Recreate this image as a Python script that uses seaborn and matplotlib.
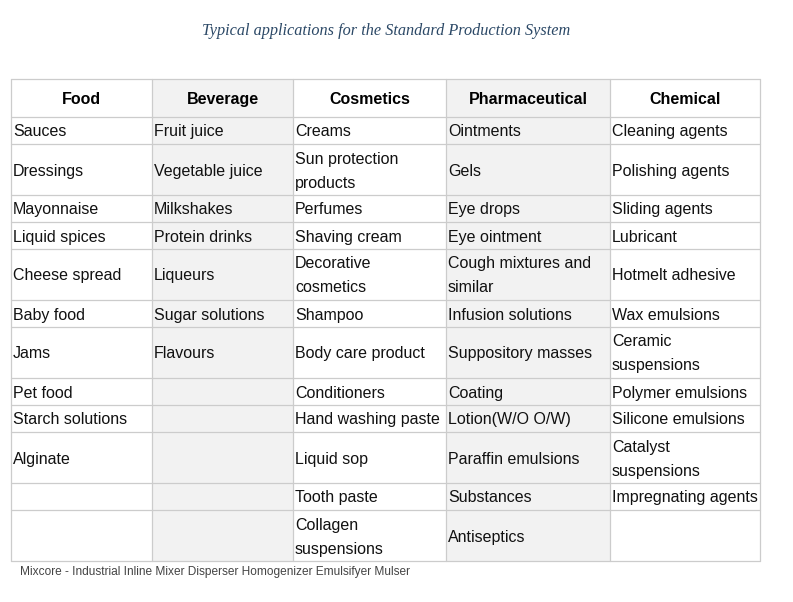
import matplotlib
matplotlib.use('Agg')
import matplotlib.pyplot as plt
from matplotlib.patches import Rectangle
import seaborn as sns

# Dados da tabela
titulo = 'Typical applications for the Standard Production System'
rodape = 'Mixcore - Industrial Inline Mixer Disperser Homogenizer Emulsifyer Mulser'

cabecalho = ['Food', 'Beverage', 'Cosmetics', 'Pharmaceutical', 'Chemical']

food = ['Sauces', 'Dressings', 'Mayonnaise', 'Liquid spices', 'Cheese spread',
        'Baby food', 'Jams', 'Pet food', 'Starch solutions', 'Alginate', '', '']
beverage = ['Fruit juice', 'Vegetable juice', 'Milkshakes', 'Protein drinks', 'Liqueurs',
            'Sugar solutions', 'Flavours', '', '', '', '', '']
cosmetics = ['Creams', 'Sun protection\nproducts', 'Perfumes', 'Shaving cream',
             'Decorative\ncosmetics', 'Shampoo', 'Body care product', 'Conditioners',
             'Hand washing paste', 'Liquid sop', 'Tooth paste', 'Collagen\nsuspensions']
pharmaceutical = ['Ointments', 'Gels', 'Eye drops', 'Eye ointment', 'Cough mixtures and\nsimilar',
                  'Infusion solutions', 'Suppository masses', 'Coating', 'Lotion(W/O O/W)',
                  'Paraffin emulsions', 'Substances', 'Antiseptics']
chemical = ['Cleaning agents', 'Polishing agents', 'Sliding agents', 'Lubricant',
            'Hotmelt adhesive', 'Wax emulsions', 'Ceramic\nsuspensions', 'Polymer emulsions',
            'Silicone emulsions', 'Catalyst\nsuspensions', 'Impregnating agents', '']

colunas = [food, beverage, cosmetics, pharmaceutical, chemical]
larguras = [141, 141, 153, 164, 150]
colunas_cinza = [1, 3]

# Estilo
sns.set_theme(style='white')
plt.rcParams['font.family'] = ['Liberation Sans', 'DejaVu Sans']

cor_borda = '#cccccc'
cor_cinza = '#f2f2f2'
cor_texto = '#111111'

fig = plt.figure(figsize=(7.93, 6.02), dpi=100)
ax = fig.add_axes([0, 0, 1, 1])
ax.set_xlim(0, 793)
ax.set_ylim(602, 0)
ax.axis('off')

# Geometria
x0, y0 = 11, 79
altura_cab = 38
altura_linha = 24
n_linhas = len(food)
alturas = []
for i in range(n_linhas):
    n = max(len(c[i].split('\n')) for c in colunas)
    alturas.append(3 + altura_linha * n)

xs = [x0]
for w in larguras:
    xs.append(xs[-1] + w)
ys = [y0, y0 + altura_cab]
for h in alturas:
    ys.append(ys[-1] + h)

# Fundo das colunas cinzas
for j in colunas_cinza:
    ax.add_patch(Rectangle((xs[j], ys[0]), larguras[j], ys[-1] - ys[0],
                           facecolor=cor_cinza, edgecolor='none', zorder=0))

# Linhas da grade
for y in ys:
    ax.plot([xs[0], xs[-1]], [y, y], color=cor_borda, lw=0.9, zorder=1)
for x in xs:
    ax.plot([x, x], [ys[0], ys[-1]], color=cor_borda, lw=0.9, zorder=1)

# Cabeçalho
for j, nome in enumerate(cabecalho):
    cx = xs[j] + larguras[j] / 2
    ax.text(cx, round((ys[0] + ys[1]) / 2 + 6), nome, ha='center', va='baseline',
            fontsize=11.5, fontweight='bold', color='#000000', zorder=2)

# Células
for j, col in enumerate(colunas):
    for i, celula in enumerate(col):
        if not celula:
            continue
        partes = celula.split('\n')
        centro = (ys[i + 1] + ys[i + 2]) / 2
        for k, parte in enumerate(partes):
            yb = round(centro + (k - (len(partes) - 1) / 2) * altura_linha + 6)
            ax.text(xs[j] + 2, yb, parte, ha='left', va='baseline',
                    fontsize=11.5, color=cor_texto, zorder=2)

# Título e rodapé
ax.text(386, 35, titulo, ha='center', va='baseline', fontsize=11.7,
        style='italic', family=['Liberation Serif', 'DejaVu Serif'], color='#2b4866')
ax.text(20, 575, rodape, ha='left', va='baseline', fontsize=8.6, color='#444444')

plt.savefig('out.png', dpi=100)
plt.close()
